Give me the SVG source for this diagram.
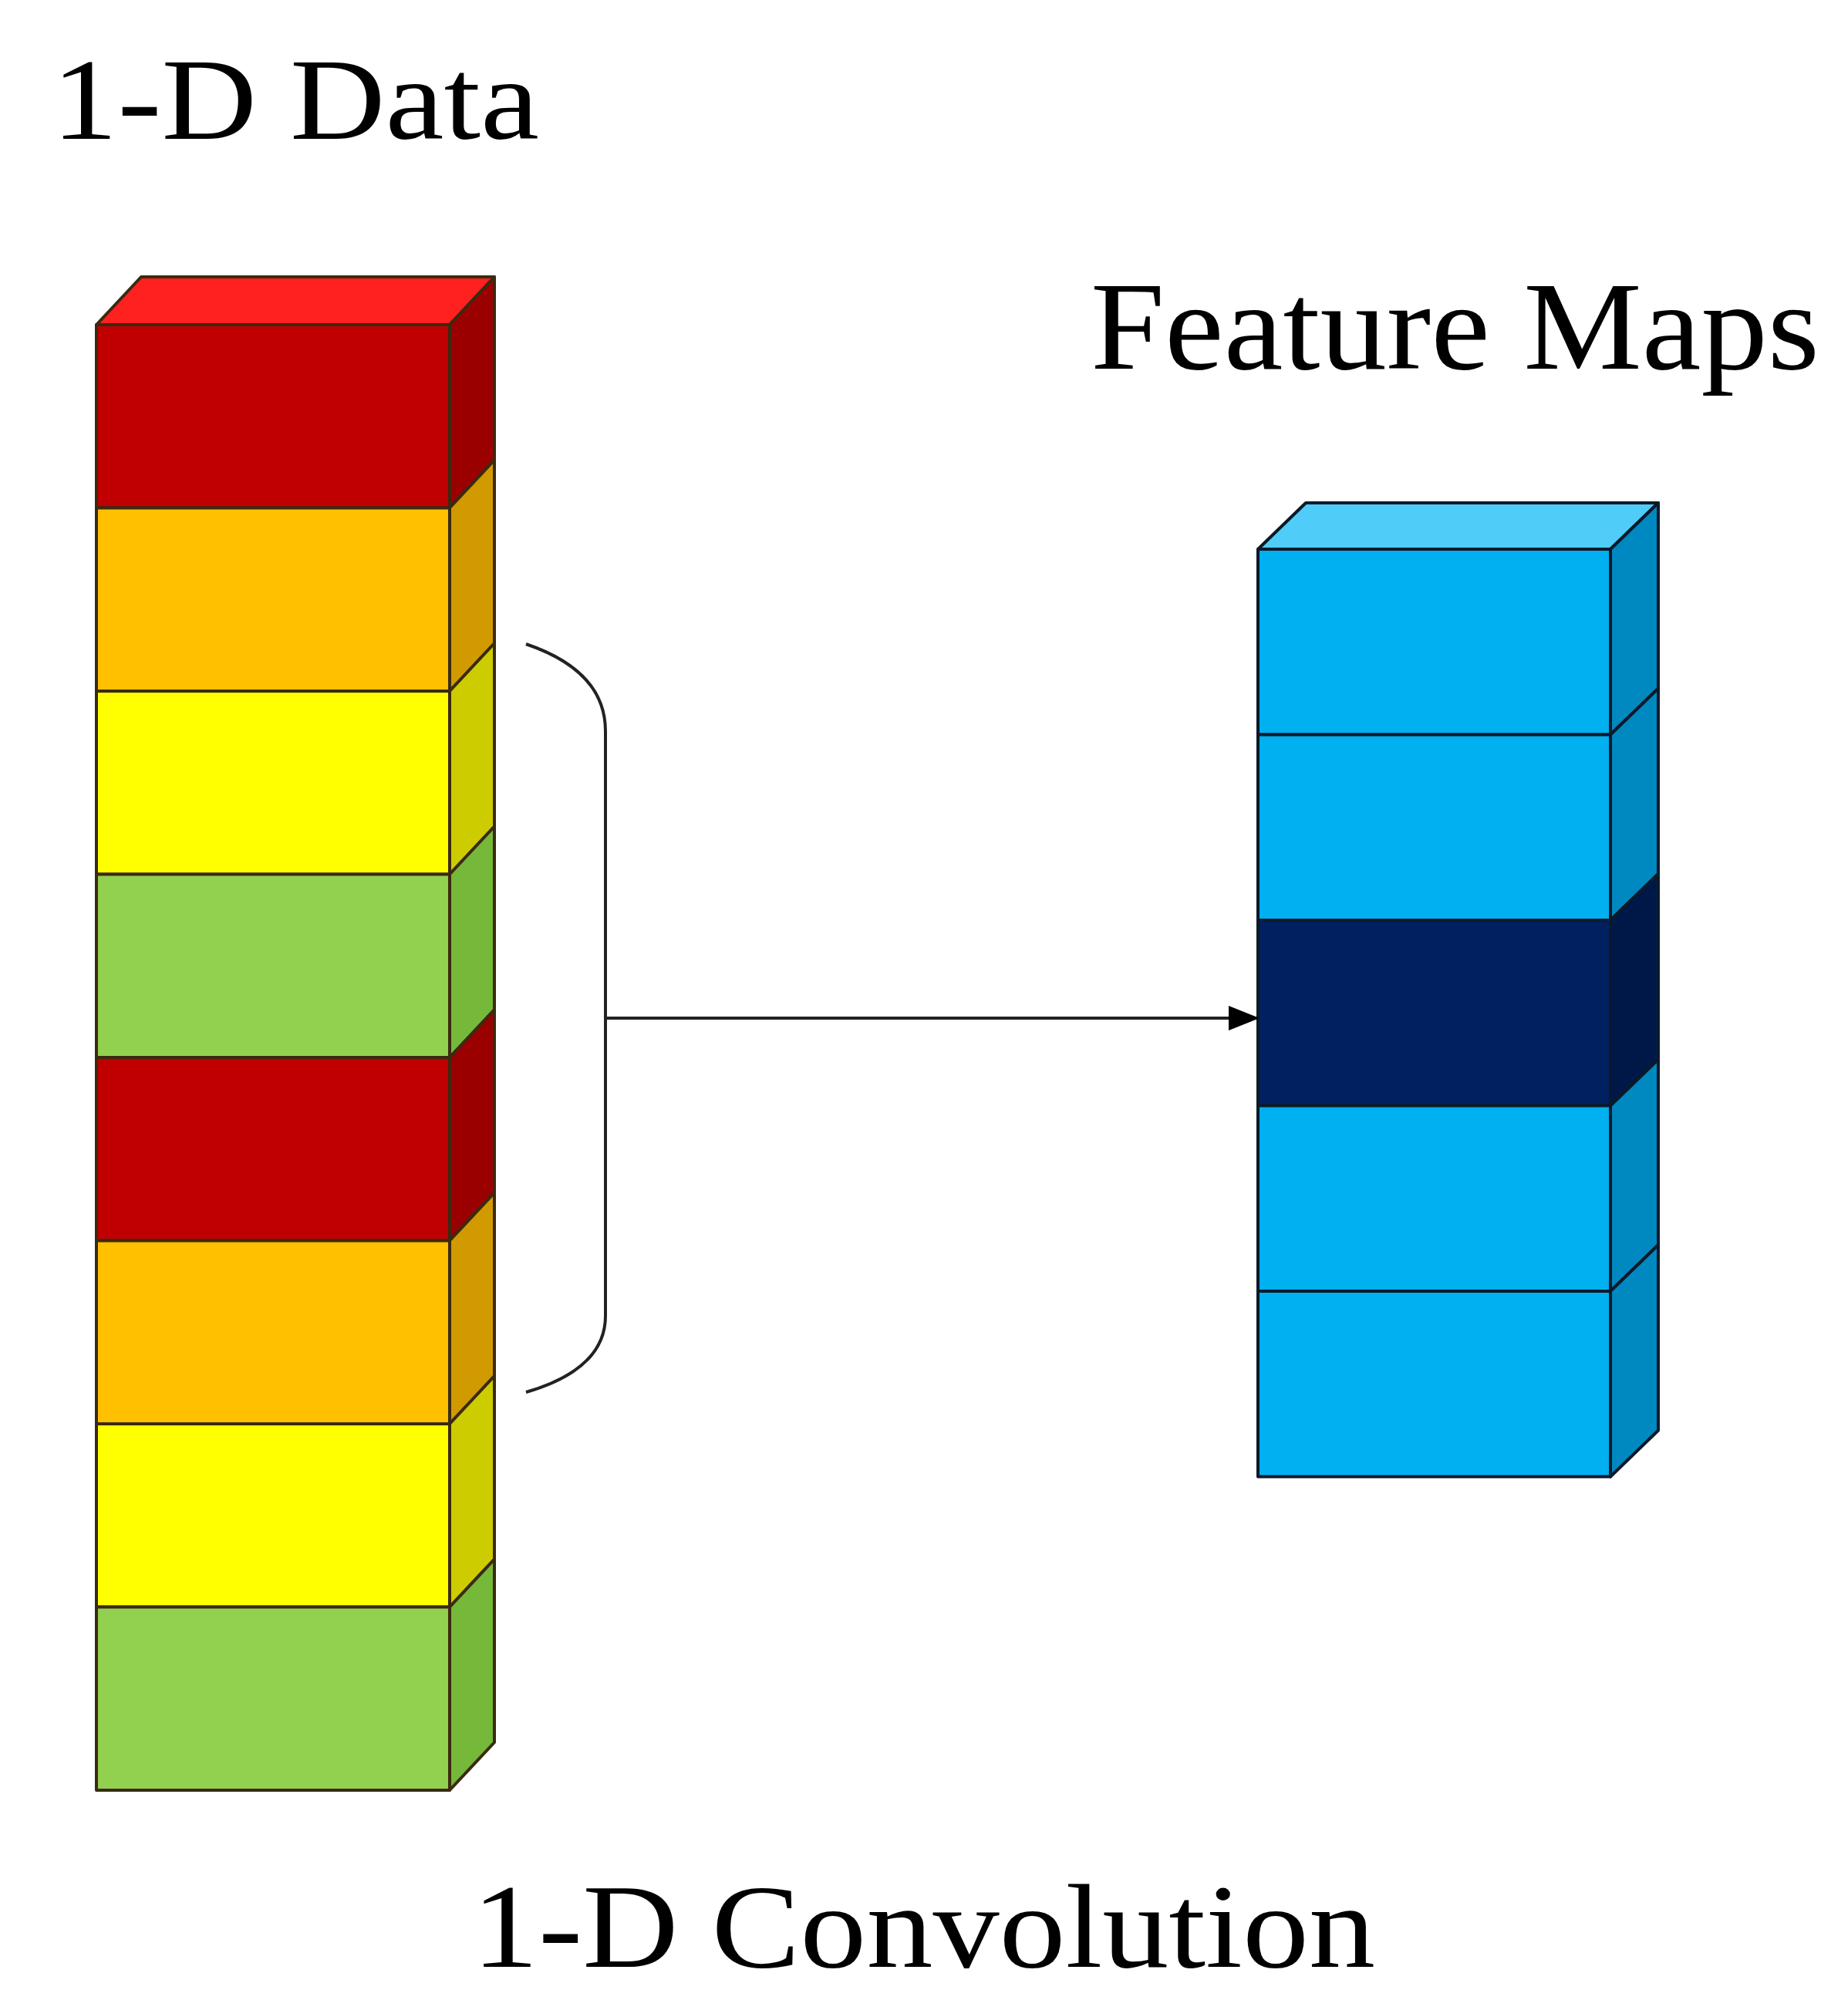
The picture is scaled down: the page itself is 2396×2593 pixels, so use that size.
<svg xmlns="http://www.w3.org/2000/svg" width="2396" height="2593" viewBox="0 0 2396 2593">
<style>
.t{font-family:"Liberation Serif","Times New Roman",serif;fill:#000}
.e{stroke:#3a2a10;stroke-width:4;stroke-linejoin:round}
.b{stroke:#0a1a2a;stroke-width:4;stroke-linejoin:round}
</style>
<defs><marker id="ah" markerWidth="10" markerHeight="8" refX="9" refY="4" orient="auto" markerUnits="strokeWidth"><path d="M0,0 L10,4 L0,8 z" fill="#000"/></marker></defs>
<rect width="2396" height="2593" fill="#fff"/>
<text class="t" x="67" y="180" font-size="150" textLength="632" lengthAdjust="spacingAndGlyphs">1-D Data</text>
<text class="t" x="1414" y="478" font-size="163" textLength="945" lengthAdjust="spacingAndGlyphs">Feature Maps</text>
<text class="t" x="612" y="2550" font-size="155" textLength="1171" lengthAdjust="spacingAndGlyphs">1-D Convolution</text>
<g id="data">
<polygon class="e" points="125,421 183,359 641,359 583,421" fill="#FF2020"/>
<g id="d1"><rect class="e" x="125" y="421" width="458" height="237.5" fill="#C00000"/><polygon class="e" points="583,421 641,359 641,596.5 583,658.5" fill="#9A0000"/></g>
<g id="d2"><rect class="e" x="125" y="658.5" width="458" height="237.5" fill="#FFC000"/><polygon class="e" points="583,658.5 641,596.5 641,834 583,896" fill="#D09A00"/></g>
<g id="d3"><rect class="e" x="125" y="896" width="458" height="237.5" fill="#FFFF00"/><polygon class="e" points="583,896 641,834 641,1071.5 583,1133.5" fill="#CCCC00"/></g>
<g id="d4"><rect class="e" x="125" y="1133.5" width="458" height="237.5" fill="#92D050"/><polygon class="e" points="583,1133.5 641,1071.5 641,1309 583,1371" fill="#76B83A"/></g>
<g id="d5"><rect class="e" x="125" y="1371" width="458" height="237.5" fill="#C00000"/><polygon class="e" points="583,1371 641,1309 641,1546.5 583,1608.5" fill="#9A0000"/></g>
<g id="d6"><rect class="e" x="125" y="1608.5" width="458" height="237.5" fill="#FFC000"/><polygon class="e" points="583,1608.5 641,1546.5 641,1784 583,1846" fill="#D09A00"/></g>
<g id="d7"><rect class="e" x="125" y="1846" width="458" height="237.5" fill="#FFFF00"/><polygon class="e" points="583,1846 641,1784 641,2021.5 583,2083.5" fill="#CCCC00"/></g>
<g id="d8"><rect class="e" x="125" y="2083.5" width="458" height="237.5" fill="#92D050"/><polygon class="e" points="583,2083.5 641,2021.5 641,2259 583,2321" fill="#76B83A"/></g>
</g>
<g id="maps">
<polygon class="b" points="1631,712 1693,652 2150,652 2088,712" fill="#50CCF8"/>
<g id="m1"><rect class="b" x="1631" y="712" width="457" height="240.5" fill="#00B0F0"/><polygon class="b" points="2088,712 2150,652 2150,892.5 2088,952.5" fill="#0088C0"/></g>
<g id="m2"><rect class="b" x="1631" y="952.5" width="457" height="240.5" fill="#00B0F0"/><polygon class="b" points="2088,952.5 2150,892.5 2150,1133 2088,1193" fill="#0088C0"/></g>
<g id="m3"><rect class="b" x="1631" y="1193" width="457" height="240.5" fill="#002060"/><polygon class="b" points="2088,1193 2150,1133 2150,1373.5 2088,1433.5" fill="#001848"/></g>
<g id="m4"><rect class="b" x="1631" y="1433.5" width="457" height="240.5" fill="#00B0F0"/><polygon class="b" points="2088,1433.5 2150,1373.5 2150,1614 2088,1674" fill="#0088C0"/></g>
<g id="m5"><rect class="b" x="1631" y="1674" width="457" height="240.5" fill="#00B0F0"/><polygon class="b" points="2088,1674 2150,1614 2150,1854.5 2088,1914.5" fill="#0088C0"/></g>
</g>
<g id="connectors" fill="none" stroke="#222" stroke-width="4">
<path d="M682,835 Q785,870 785,948 L785,1706 Q785,1775 682,1805"/>
<line x1="785" y1="1320" x2="1629" y2="1320" marker-end="url(#ah)"/>
</g>
</svg>
